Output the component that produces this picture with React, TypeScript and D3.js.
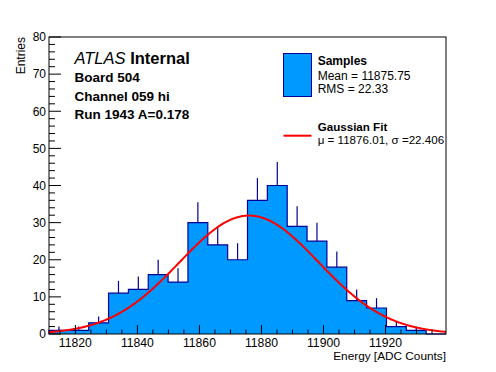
import React from "react";
import * as d3 from "d3";

// histogram of 20 equal bins over the energy range
const binCounts = [1, 1, 3, 11, 12, 16, 14, 30, 24, 20, 36, 40, 29, 25, 18, 9, 7, 2, 1, 0];
const energyRange = [11811.5, 11939.5];
const xTicks = [11820, 11840, 11860, 11880, 11900, 11920];
const yTicks = [0, 10, 20, 30, 40, 50, 60, 70, 80];
// gaussian fit: amplitude, mean, sigma
const fitParams = [31.9, 11876.01, 22.406];
const infoLines = ["Board 504", "Channel 059 hi", "Run 1943 A=0.178"];
const sampleStats = ["Mean = 11875.75", "RMS = 22.33"];

const W = 496;
const H = 372;
const font = "'Liberation Sans', Arial, Helvetica, sans-serif";
const fillBlue = "#0099ff";
const lineBlue = "#000099";

const App = () => {
  const x = d3.scaleLinear().domain(energyRange).range([49, 446]);
  const y = d3.scaleLinear().domain([0, 80]).range([334, 37]);

  const nBins = binCounts.length;
  const binWidth = (energyRange[1] - energyRange[0]) / nBins;
  const edges = d3.range(nBins + 1).map((i) => energyRange[0] + i * binWidth);

  const stepPts: [number, number][] = [[edges[0], 0]];
  binCounts.forEach((n, i) => stepPts.push([edges[i], n]));
  stepPts.push([edges[nBins], binCounts[nBins - 1]]);
  stepPts.push([edges[nBins], 0]);

  const area = d3
    .area<[number, number]>()
    .x((d) => x(d[0]))
    .y0(y(0))
    .y1((d) => y(d[1]))
    .curve(d3.curveStepAfter);
  const outline = d3
    .line<[number, number]>()
    .x((d) => x(d[0]))
    .y((d) => y(d[1]))
    .curve(d3.curveStepAfter);

  const [amp, mu, sigma] = fitParams;
  const fitPts: [number, number][] = d3
    .range(0, 401)
    .map((i) => energyRange[0] + (i * (energyRange[1] - energyRange[0])) / 400)
    .map((e) => [e, amp * Math.exp(-0.5 * ((e - mu) / sigma) ** 2)]);
  const fitLine = d3
    .line<[number, number]>()
    .x((d) => x(d[0]))
    .y((d) => y(d[1]));

  const [x0, x1] = x.range();
  const [yb, yt] = y.range();
  const yMinor = d3.range(0, 81, 2).filter((v) => v % 10 !== 0);
  const xMinor = d3.range(11815, 11940, 5).filter((v) => v % 20 !== 0);

  return (
    <div style={{ position: "fixed", left: 0, top: 0 }}>
      <svg width={W} height={H} style={{ display: "block", background: "#fff" }} fontFamily={font}>
        {/* histogram */}
        <path d={area(stepPts) || ""} fill={fillBlue} />
        <path d={outline(stepPts) || ""} fill="none" stroke={lineBlue} strokeWidth={1.2} />
        {binCounts.map((n, i) =>
          n > 0 ? (
            <line
              key={i}
              x1={x(edges[i] + binWidth / 2)}
              x2={x(edges[i] + binWidth / 2)}
              y1={y(n)}
              y2={y(n + Math.sqrt(n))}
              stroke={lineBlue}
              strokeWidth={1.2}
            />
          ) : null
        )}
        <path d={fitLine(fitPts) || ""} fill="none" stroke="#ff0000" strokeWidth={2} />

        {/* frame */}
        <rect x={x0} y={yt} width={x1 - x0} height={yb - yt} fill="none" stroke="#000" strokeWidth={1} />

        {/* y axis */}
        {yTicks.map((v) => (
          <g key={v}>
            <line x1={x0} x2={x0 + 12} y1={y(v)} y2={y(v)} stroke="#000" />
            <text x={46} y={y(v)} dy="0.36em" textAnchor="end" fontSize={12}>
              {v}
            </text>
          </g>
        ))}
        {yMinor.map((v) => (
          <line key={v} x1={x0} x2={x0 + 6} y1={y(v)} y2={y(v)} stroke="#000" />
        ))}
        <text transform={`translate(24.5,${yt}) rotate(-90)`} textAnchor="end" fontSize={12}>
          Entries
        </text>

        {/* x axis */}
        {xTicks.map((v) => (
          <g key={v}>
            <line x1={x(v)} x2={x(v)} y1={yb} y2={yb - 9} stroke="#000" />
            <text x={x(v)} y={347} textAnchor="middle" fontSize={12.2}>
              {v}
            </text>
          </g>
        ))}
        {xMinor.map((v) => (
          <line key={v} x1={x(v)} x2={x(v)} y1={yb} y2={yb - 4.5} stroke="#000" />
        ))}
        <text x={x1} y={359.5} textAnchor="end" fontSize={11.8}>
          Energy [ADC Counts]
        </text>

        {/* labels */}
        <text x={74.5} y={63.5} fontSize={16.5}>
          <tspan fontStyle="italic">ATLAS</tspan>
          <tspan fontWeight="bold"> Internal</tspan>
        </text>
        {infoLines.map((t, i) => (
          <text key={t} x={74.5} y={82.3 + i * 18.5} fontSize={13.5} fontWeight="bold">
            {t}
          </text>
        ))}

        {/* legend */}
        <rect x={283.5} y={53.5} width={28} height={43} fill={fillBlue} stroke={lineBlue} strokeWidth={1} />
        <text x={317.7} y={65} fontSize={12} fontWeight="bold">
          Samples
        </text>
        {sampleStats.map((t, i) => (
          <text key={t} x={317.7} y={80 + i * 13.3} fontSize={12}>
            {t}
          </text>
        ))}
        <line x1={283.5} x2={311.5} y1={135.7} y2={135.7} stroke="#ff0000" strokeWidth={2} />
        <text x={317.7} y={131} fontSize={11.6} fontWeight="bold">
          Gaussian Fit
        </text>
        <text x={317.7} y={144} fontSize={11.6}>
          {`\u03bc = ${mu.toFixed(2)}, \u03c3 =${sigma.toFixed(3)}`}
        </text>
      </svg>
    </div>
  );
};

export default App;
